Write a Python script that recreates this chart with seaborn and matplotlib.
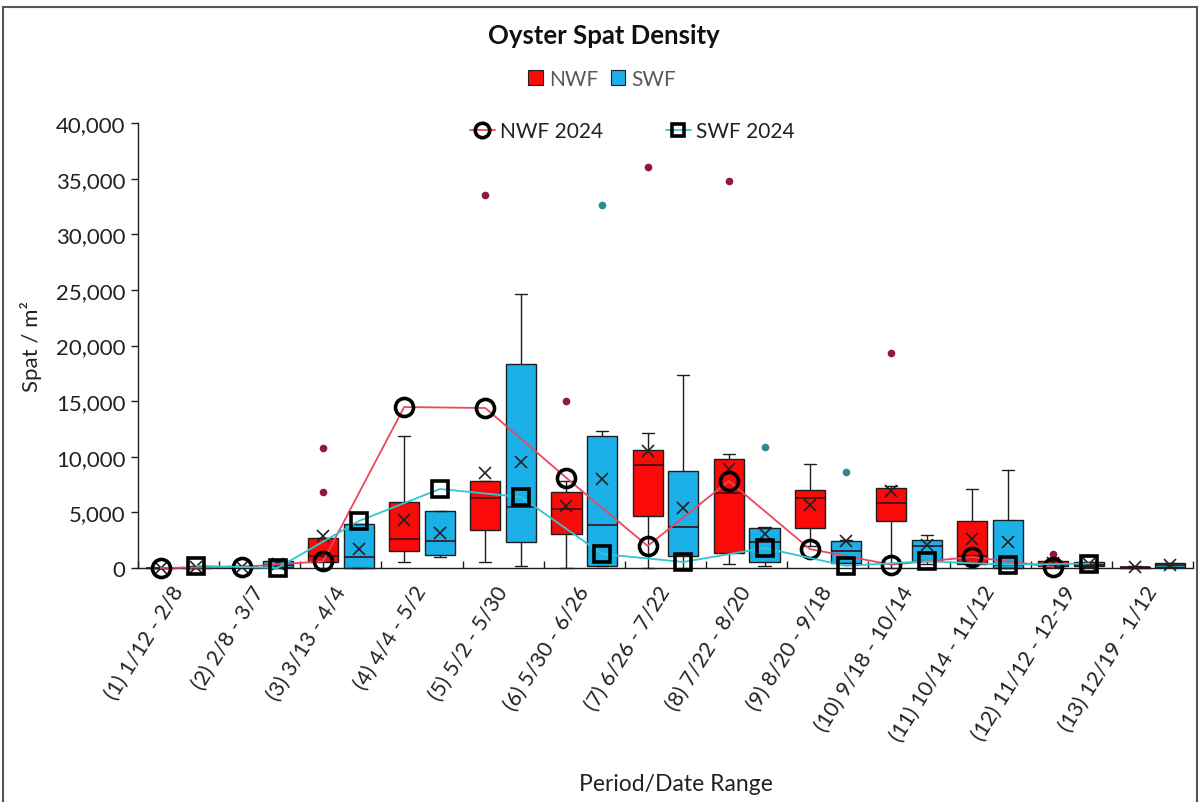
import numpy as np
import matplotlib
matplotlib.use("Agg")
import matplotlib.pyplot as plt
from matplotlib.patches import Patch, Rectangle
from matplotlib.ticker import StrMethodFormatter, FixedLocator
import seaborn as sns

# ---- data -------------------------------------------------------------
periods = ["(1) 1/12 - 2/8", "(2) 2/8 - 3/7", "(3) 3/13 - 4/4", "(4) 4/4 - 5/2",
           "(5) 5/2 - 5/30", "(6) 5/30 - 6/26", "(7) 6/26 - 7/22", "(8) 7/22 - 8/20",
           "(9) 8/20 - 9/18", "(10) 9/18 - 10/14", "(11) 10/14 - 11/12",
           "(12) 11/12 - 12-19", "(13) 12/19 - 1/12"]

# NWF box statistics (spat / m2)
nwf_whislo = [0, 50, 0, 540, 540, 0, 0, 360, 2000, 0, 0, 100, 0]
nwf_q1 = [0, 80, 540, 1530, 3420, 3060, 4670, 1350, 3600, 4220, 360, 200, 20]
nwf_med = [0, 100, 1100, 2610, 6290, 5300, 9260, 6740, 6290, 5840, 1080, 400, 50]
nwf_q3 = [0, 150, 2700, 5930, 7820, 6830, 10610, 9800, 7010, 7190, 4220, 630, 120]
nwf_whishi = [0, 200, 2700, 11870, 7820, 7800, 12130, 10250, 9350, 7370, 7100, 700, 150]
nwf_mean = [0, 100, 2900, 4310, 8540, 5570, 10520, 8900, 5660, 6920, 2610, 450, 60]
nwf_fliers = [[], [], [6830, 10790], [], [33530], [15010], [36040], [34790],
              [], [19330], [], [1260], []]

# SWF box statistics (spat / m2)
swf_whislo = [0, 0, 0, 990, 200, 200, 0, 200, 450, 360, 0, 100, 100]
swf_q1 = [0, 100, 0, 1170, 2340, 200, 1080, 540, 450, 630, 0, 150, 100]
swf_med = [0, 300, 990, 2430, 5480, 3870, 3690, 2340, 1530, 1980, 300, 300, 250]
swf_q3 = [100, 600, 3950, 5120, 18340, 11870, 8720, 3600, 2430, 2520, 4310, 500, 450]
swf_whishi = [150, 600, 3950, 5120, 24630, 12310, 17350, 3690, 2500, 2970, 8810, 550, 450]
swf_mean = [50, 350, 1700, 3150, 9530, 8000, 5390, 3060, 2430, 2070, 2340, 350, 250]
swf_fliers = [[], [], [], [], [], [32630], [], [10880], [8630], [], [], [], []]

# 2024 season values (periods 1-12)
nwf_2024 = [0, 100, 600, 14470, 14380, 8090, 1980, 7820, 1700, 300, 990, 100]
swf_2024 = [200, 0, 4220, 7100, 6380, 1260, 540, 1800, 200, 600, 300, 400]

# ---- style ------------------------------------------------------------
sns.set_style("white")
plt.rcParams["font.family"] = ["Lato", "DejaVu Sans"]

NWF_FILL = "#fb0a0a"
SWF_FILL = "#1cb0e8"
NWF_LINE = "#e8485f"
SWF_LINE = "#30c6d4"
EDGE = "#1e1e1e"
TEXT = "#222222"

W, H = 1201, 803
fig = plt.figure(figsize=(W / 100, H / 100), dpi=100)
ax = fig.add_axes([138 / W, 1 - 569 / H, (1193 - 138) / W, (569 - 124) / H])

n = len(periods)
x = np.arange(n)
off = 0.22


def make_stats(lo, q1, med, q3, hi, mean, fl):
    return [dict(whislo=lo[i], q1=q1[i], med=med[i], q3=q3[i], whishi=hi[i],
                 mean=mean[i], fliers=fl[i]) for i in range(len(lo))]


def draw_boxes(stats, pos, fill, flier_col):
    art = ax.bxp(stats, positions=pos, widths=0.37, patch_artist=True,
                 showmeans=True, capwidths=0.15,
                 boxprops=dict(facecolor=fill, edgecolor=EDGE, linewidth=1.0),
                 medianprops=dict(color="#3a1010", linewidth=1.2),
                 whiskerprops=dict(color=EDGE, linewidth=1.0),
                 capprops=dict(color=EDGE, linewidth=1.0),
                 meanprops=dict(marker="x", markeredgecolor="#222222",
                                markersize=8, markeredgewidth=1.2),
                 flierprops=dict(marker="o", markerfacecolor=flier_col,
                                 markeredgecolor=flier_col, markersize=4.5))
    for group in art.values():
        for a in group:
            a.set_clip_on(False)
            a.set_zorder(2)


draw_boxes(make_stats(nwf_whislo, nwf_q1, nwf_med, nwf_q3, nwf_whishi, nwf_mean, nwf_fliers),
           x - off, NWF_FILL, "#8c1a3c")
draw_boxes(make_stats(swf_whislo, swf_q1, swf_med, swf_q3, swf_whishi, swf_mean, swf_fliers),
           x + off, SWF_FILL, "#2f8a8c")

# 2024 lines with hollow markers
x24 = np.arange(len(nwf_2024))
sns.lineplot(x=x24 - off, y=nwf_2024, ax=ax, color=NWF_LINE, linewidth=1.3,
             marker="o", markersize=13, markerfacecolor="none",
             markeredgecolor="black", markeredgewidth=2.6, label="NWF 2024",
             clip_on=False, zorder=5)
sns.lineplot(x=x24 + off, y=swf_2024, ax=ax, color=SWF_LINE, linewidth=1.3,
             marker="s", markersize=11.5, markerfacecolor="none",
             markeredgecolor="black", markeredgewidth=2.6, label="SWF 2024",
             clip_on=False, zorder=5)
handles, labels = ax.get_legend_handles_labels()
if ax.get_legend() is not None:
    ax.get_legend().remove()

# ---- axes -------------------------------------------------------------
ax.set_xlim(-0.5, n - 0.5)
ax.set_ylim(0, 40000)
ax.set_yticks(np.arange(0, 40001, 5000))
ax.yaxis.set_major_formatter(StrMethodFormatter("{x:,.0f}"))
ax.tick_params(axis="y", direction="out", length=5, width=1, color=EDGE,
               labelsize=16, labelcolor=TEXT, pad=4, left=True)
ax.set_xticks(x)
ax.set_xticklabels(periods, rotation=58, ha="right", va="center",
                   rotation_mode="anchor", fontsize=15.5, color=TEXT)
ax.tick_params(axis="x", which="major", length=0, pad=14)
ax.xaxis.set_minor_locator(FixedLocator(np.arange(-0.5, n, 1.0)))
ax.tick_params(axis="x", which="minor", direction="in", length=5, width=1,
               color=EDGE, bottom=True)
for side in ("top", "right"):
    ax.spines[side].set_visible(False)
for side in ("left", "bottom"):
    ax.spines[side].set_color(EDGE)
    ax.spines[side].set_linewidth(1.0)
ax.grid(False)

ax.set_ylabel("Spat / m²", fontsize=16, color=TEXT, labelpad=10)
fig.text(676 / W, 1 - 785 / H, "Period/Date Range", ha="center", va="center",
         fontsize=16.5, color=TEXT)
fig.text(604 / W, 1 - 36 / H, "Oyster Spat Density", ha="center", va="center",
         fontsize=18.5, fontweight="bold", color="#111111")

# legends
box_handles = [Patch(facecolor=NWF_FILL, edgecolor=EDGE, linewidth=0.8),
               Patch(facecolor=SWF_FILL, edgecolor=EDGE, linewidth=0.8)]
fig.legend(box_handles, ["NWF", "SWF"], loc="center", ncol=2,
           bbox_to_anchor=(602 / W, 1 - 80 / H), frameon=False, fontsize=15,
           labelcolor="#595959", handlelength=0.7, handleheight=0.7,
           handletextpad=0.3, columnspacing=0.6)
fig.legend(handles, labels, loc="center", ncol=2,
           bbox_to_anchor=(632 / W, 1 - 132 / H), frameon=False, fontsize=15,
           labelcolor=TEXT, handlelength=1.2, handletextpad=0.25,
           columnspacing=3.0, markerscale=0.8)

# outer chart frame
fig.add_artist(Rectangle((3 / W, -0.01), (1197 - 3) / W, 1.01 - 8 / H,
                         transform=fig.transFigure, fill=False,
                         edgecolor="#555555", linewidth=1.5))

fig.savefig("out.png", dpi=100, facecolor="white")
